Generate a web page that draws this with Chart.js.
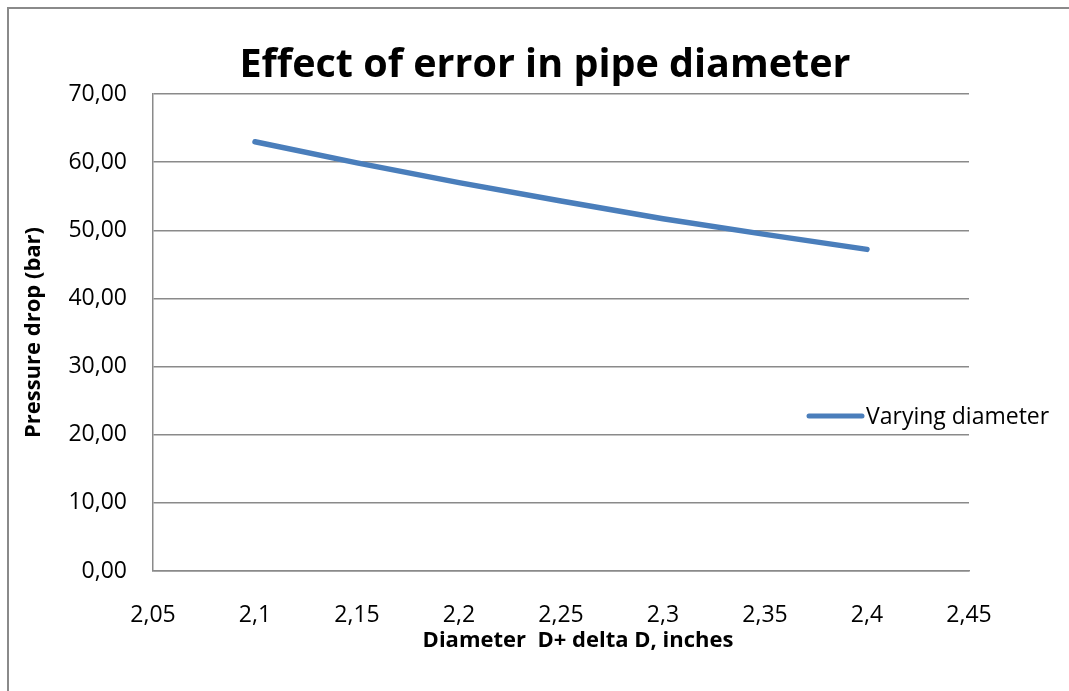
<!DOCTYPE html>
<html>
<head>
<meta charset="utf-8">
<title>Effect of error in pipe diameter</title>
<script src="https://cdn.jsdelivr.net/npm/chart.js@4.4.1/dist/chart.umd.min.js"></script>
<style>
  html, body { margin: 0; padding: 0; background: #fff; overflow: hidden; }
  #frame { position: absolute; left: 7px; top: 7px; width: 2000px; height: 2000px;
           border-left: 2px solid #8a8a8a; border-top: 2px solid #8a8a8a; }
  #chart { position: absolute; left: 0; top: 0; }
</style>
</head>
<body>
<div id="frame"></div>
<canvas id="chart" width="1069" height="691"></canvas>
<script>
// Data
const diameters = [2.1, 2.15, 2.2, 2.25, 2.3, 2.35, 2.4];
const pressureDrop = [63.0, 59.9, 57.0, 54.3, 51.7, 49.4, 47.2];
const xTickLabels = ['2,05', '2,1', '2,15', '2,2', '2,25', '2,3', '2,35', '2,4', '2,45'];
const yTickLabels = ['0,00', '10,00', '20,00', '30,00', '40,00', '50,00', '60,00', '70,00'];

const seriesName = 'Varying diameter';
const chartTitle = 'Effect of error in pipe diameter';
const xTitle = 'Diameter  D+ delta D, inches';
const yTitle = 'Pressure drop (bar)';

const FONT = "'Open Sans', 'Liberation Sans', sans-serif";
const BLUE = '#4a7ebb';
const GRID = '#8a8a8a';

Chart.defaults.color = '#000';
Chart.defaults.font.family = FONT;

// title, x axis title and the legend, placed like the Excel original
const extraText = {
    id: 'extraText',
    afterDraw(chart) {
        const ctx = chart.ctx;
        const area = chart.chartArea;
        ctx.save();
        ctx.fillStyle = '#000';

        ctx.font = 'bold 39.5px ' + FONT;
        ctx.textAlign = 'center';
        ctx.textBaseline = 'alphabetic';
        ctx.fillText(chartTitle, 545, 77);

        ctx.font = 'bold 22px ' + FONT;
        ctx.textBaseline = 'middle';
        ctx.fillText(xTitle, 578, 641);

        // legend
        const ds = chart.data.datasets[0];
        ctx.strokeStyle = ds.borderColor;
        ctx.lineWidth = 5;
        ctx.lineCap = 'round';
        ctx.beginPath();
        ctx.moveTo(area.right - 160, 416);
        ctx.lineTo(area.right - 107, 416);
        ctx.stroke();
        ctx.font = '23px ' + FONT;
        ctx.textAlign = 'left';
        ctx.textBaseline = 'alphabetic';
        ctx.fillText(ds.label, area.right - 103, 424);
        ctx.restore();
    }
};

new Chart(document.getElementById('chart'), {
    type: 'line',
    data: {
        datasets: [{
            label: seriesName,
            data: diameters.map((d, i) => ({ x: d, y: pressureDrop[i] })),
            borderColor: BLUE,
            backgroundColor: BLUE,
            borderWidth: 5.5,
            borderCapStyle: 'round',
            borderJoinStyle: 'round',
            pointRadius: 0,
            tension: 0
        }]
    },
    options: {
        responsive: false,
        animation: false,
        layout: { padding: { left: 21, top: 94, right: 100, bottom: 60 } },
        plugins: {
            legend: { display: false },
            title: { display: false },
            tooltip: { enabled: false }
        },
        scales: {
            x: {
                type: 'linear',
                min: 2.05,
                max: 2.45,
                grid: { display: false, drawTicks: false },
                border: { display: true, color: GRID, width: 1.5 },
                ticks: {
                    stepSize: 0.05,
                    padding: 31,
                    maxRotation: 0,
                    autoSkip: false,
                    font: { size: 23 },
                    callback: (v) => xTickLabels[Math.round((v - 2.05) / 0.05)]
                },
                afterFit: (s) => { s.height = 60; }
            },
            y: {
                min: 0,
                max: 70,
                grid: { color: GRID, lineWidth: 1.5, drawTicks: false },
                border: { display: true, color: GRID, width: 1.5 },
                ticks: {
                    stepSize: 10,
                    padding: 26,
                    font: { size: 23 },
                    callback: (v) => yTickLabels[Math.round(v / 10)]
                },
                title: {
                    display: true,
                    text: yTitle,
                    padding: 0,
                    font: { size: 22, weight: 'bold' }
                },
                afterFit: (s) => { s.width = 132; }
            }
        }
    },
    plugins: [extraText]
});
</script>
</body>
</html>
